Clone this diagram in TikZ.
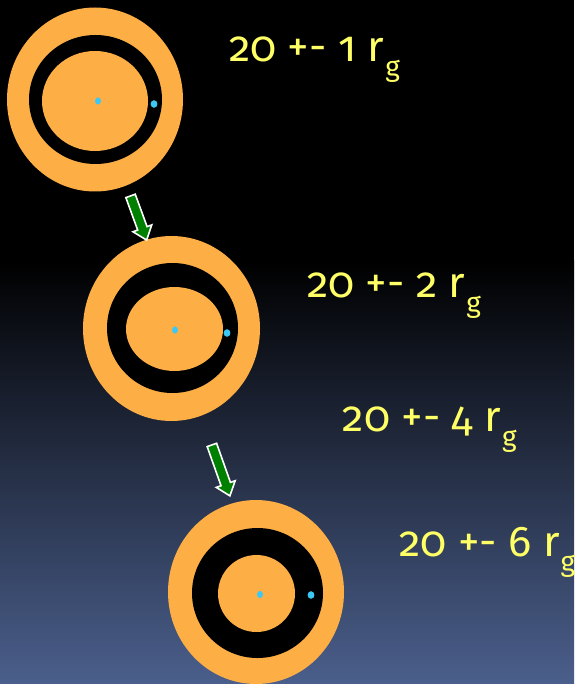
\documentclass[tikz,border=0pt]{standalone}
\usepackage{fontspec}
\setmainfont{Fira Sans}[Numbers=OldStyle]
\definecolor{ringorange}{HTML}{FDAE45}
\definecolor{dotblue}{HTML}{3CC8F5}
\definecolor{lblyellow}{HTML}{FFFF66}
\definecolor{botblue}{HTML}{4B5F8C}
\definecolor{arrowgreen}{HTML}{008000}
\newcommand\rgsub[1]{\hspace{1pt}\raisebox{-15pt}{\fontsize{28}{28}\selectfont #1}}
\tikzset{
  lbl/.style={text=lblyellow, anchor=base west, inner sep=0pt, font=\fontsize{43}{43}\selectfont},
  blockarrow/.style={fill=arrowgreen, draw=white, line width=1.6pt, line join=miter},
  ringfill/.style={fill=ringorange},
  dotfill/.style={fill=dotblue}
}
\begin{document}
\begin{tikzpicture}[x=1pt,y=-1pt]
\useasboundingbox (0,0) rectangle (574,684);
\fill[black] (0,0) rectangle (574,261);
\shade[top color=black, bottom color=botblue] (0,260) rectangle (574,684);
\begin{scope}
\clip (0,0) rectangle (574,684);
% ring 1
\fill[ringfill] (95,99.5) ellipse [x radius=88, y radius=92];
\fill[black] (95.5,99.5) ellipse [x radius=66.5, y radius=64.5];
\fill[ringfill] (95,101) ellipse [x radius=53, y radius=50];
\fill[dotfill] (98,101) ellipse [x radius=3, y radius=3.6];
\fill[dotfill] (154,104) ellipse [x radius=3.4, y radius=3.8];
% ring 2
\fill[ringfill] (171.5,328.5) ellipse [x radius=88.5, y radius=92.5];
\fill[black] (172.5,328) ellipse [x radius=65.5, y radius=65];
\fill[ringfill] (174.5,329) ellipse [x radius=48.5, y radius=42];
\fill[dotfill] (175,330) ellipse [x radius=3, y radius=3.6];
\fill[dotfill] (227,333) ellipse [x radius=3.4, y radius=3.8];
% ring 3
\fill[ringfill] (256,592) ellipse [x radius=88, y radius=92];
\fill[black] (257.5,593) ellipse [x radius=65.5, y radius=65];
\fill[ringfill] (256.5,593.5) ellipse [x radius=38.5, y radius=38.5];
\fill[dotfill] (260,594.5) ellipse [x radius=3, y radius=3.6];
\fill[dotfill] (311,595) ellipse [x radius=3.4, y radius=3.8];
\end{scope}
% arrows
\begin{scope}[shift={(138.6,218)}, rotate=-70]
\draw[blockarrow] (-23.5,-5) -- (11,-5) -- (11,-10) -- (23.5,0) -- (11,10) -- (11,5) -- (-23.5,5) -- cycle;
\end{scope}
\begin{scope}[shift={(220.9,470.4)}, rotate=-70.5]
\draw[blockarrow] (-27,-5) -- (14.5,-5) -- (14.5,-10) -- (27,0) -- (14.5,10) -- (14.5,5) -- (-27,5) -- cycle;
\end{scope}
% labels
\node[lbl] (l1) at (229,61.7) {20 +- 1 r\rgsub{g}};
\node[lbl] (l2) at (307,297) {20 +- 2 r\rgsub{g}};
\node[lbl] (l3) at (342.7,431.7) {20 +- 4 r\rgsub{g}};
\node[lbl] (l4) at (399.3,556.7) {20 +- 6 r\rgsub{g}};
\end{tikzpicture}
\end{document}
